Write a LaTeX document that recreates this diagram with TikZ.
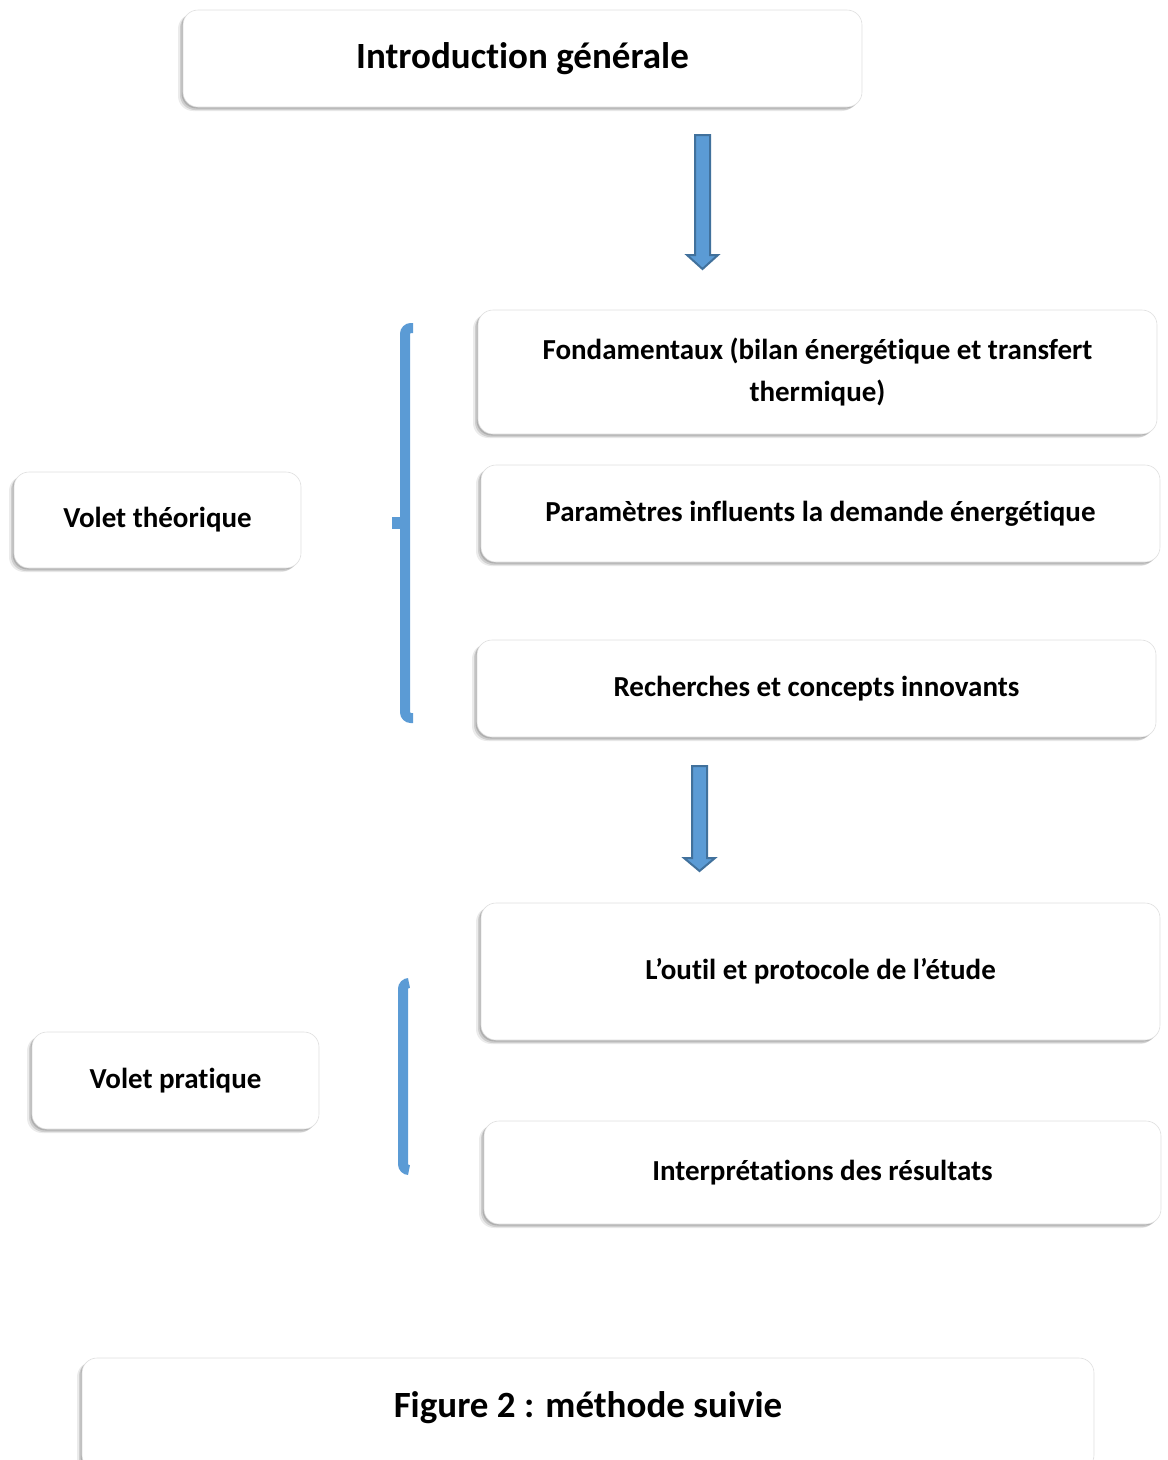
\documentclass[tikz,border=0pt]{standalone}
\usepackage{fontspec}
\setmainfont{Carlito}[Ligatures={NoCommon}]
\usetikzlibrary{shadows}
\definecolor{arrblue}{HTML}{5B9BD5}
\definecolor{arredge}{HTML}{41719C}
\tikzset{
  box/.style={draw=gray!25, line width=0.6pt, fill=white, rounded corners=15pt,
    inner sep=0pt, align=center, font=\bfseries\fontsize{29}{42}\selectfont,
    drop shadow={shadow xshift=-5pt, shadow yshift=-4pt, opacity=0.08, fill=black},
    drop shadow={shadow xshift=-3pt, shadow yshift=-3pt, opacity=0.12, fill=black},
    drop shadow={shadow xshift=-1.5pt, shadow yshift=-1.5pt, opacity=0.15, fill=black}},
  bigtext/.style={font=\bfseries\fontsize{37}{42}\selectfont},
  fatarrow/.style={fill=arrblue, draw=arredge, line width=2pt, line join=miter},
  bracketline/.style={draw=arrblue, line width=10pt}
}
\begin{document}
\begin{tikzpicture}[x=1pt,y=-1pt]
\useasboundingbox (0,0) rectangle (1168,1460);
\begin{scope}
\clip (0,0) rectangle (1168,1460);
\node[box, bigtext, minimum width=679pt, minimum height=97pt] (intro) at (522.5,58.5) {Introduction générale};
\node[box, minimum width=679pt, minimum height=124pt] (fond) at (817.5,372) {Fondamentaux (bilan énergétique et transfert\\thermique)};
\node[box, minimum width=679pt, minimum height=97pt] (param) at (820.5,513.5) {Paramètres influents la demande énergétique};
\node[box, minimum width=679pt, minimum height=97pt] (rech) at (816.5,688.5) {Recherches et concepts innovants};
\node[box, minimum width=679pt, minimum height=137pt] (outil) at (820.5,971.5) {L’outil et protocole de l’étude};
\node[box, minimum width=677pt, minimum height=103pt] (interp) at (822.5,1172.5) {Interprétations des résultats};
\node[box, minimum width=287pt, minimum height=96pt] (vtheo) at (157.5,520) {Volet théorique};
\node[box, minimum width=287pt, minimum height=97pt] (vprat) at (175.5,1080.5) {Volet pratique};
\node[box, minimum width=1012pt, minimum height=112pt] (fig) at (588,1414) {};
\node[bigtext] (figtext) at (588,1408) {Figure 2 : méthode suivie};
\end{scope}
% arrows
\draw[fatarrow] (695,135) -- (710,135) -- (710,255) -- (718,255) -- (702.5,269) -- (687,255) -- (695,255) -- cycle;
\draw[fatarrow] (692,766) -- (707,766) -- (707,858) -- (715,858) -- (699.5,871) -- (684,858) -- (692,858) -- cycle;
% brackets
\coordinate (b1top) at (413,328);
\coordinate (b1bot) at (413,718);
\draw[bracketline, rounded corners=6pt] (b1top) -- (405,328) -- (405,718) -- (b1bot);
\fill[arrblue] (392,517) rectangle (402,529);
\coordinate (b2top) at (409,983);
\coordinate (b2bot) at (409,1170);
\draw[bracketline, rounded corners=6pt] (b2top) -- (403,983) -- (403,1170) -- (b2bot);
\end{tikzpicture}
\end{document}
